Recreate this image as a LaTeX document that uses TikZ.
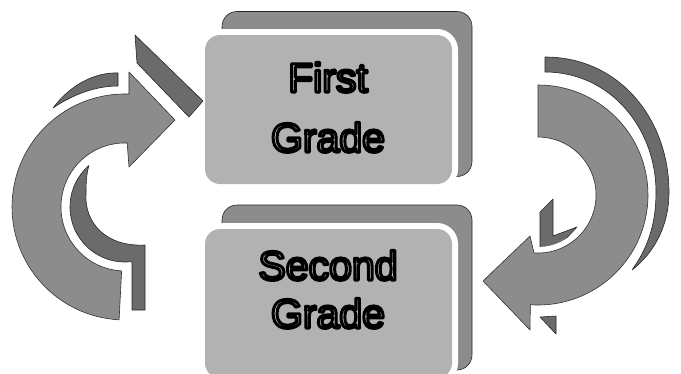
\documentclass[tikz,border=0pt]{standalone}
\usepackage{fontspec}
\setmainfont{Liberation Sans}
\definecolor{boxfront}{gray}{0.70}
\definecolor{boxback}{gray}{0.55}
\definecolor{arrowmain}{gray}{0.55}
\definecolor{arrowdark}{gray}{0.42}
\definecolor{txtfill}{gray}{0.78}
\newcommand{\outlined}[1]{\color{txtfill}\special{pdf:literal direct 0 G 2 Tr 3 w 1 j}#1\special{pdf:literal direct 0 Tr}}
\tikzset{
  backbox/.style={draw=black!85, line width=0.6pt, fill=boxback, rounded corners=15pt,
    inner sep=0pt, outer sep=0pt, minimum width=250pt, minimum height=165pt},
  frontbox/.style={fill=boxfront, rounded corners=15pt,
    preaction={draw=white, line width=12pt},
    inner sep=0pt, outer sep=0pt, minimum width=247pt, minimum height=149pt},
  gtext/.style={anchor=base, inner sep=0pt,
    font=\fontsize{41}{41}\selectfont},
  arrowbody/.style={fill=arrowmain, draw=black!80, line width=0.6pt, line join=round,
    preaction={draw=white, line width=12pt, line join=round}},
  arrowside/.style={fill=arrowdark, draw=black!85, line width=0.6pt, line join=round},
}
\begin{document}
\begin{tikzpicture}[x=1pt, y=-1pt]
\useasboundingbox (0,0) rectangle (681,373);

% boxes
\node[backbox] (firstback) at (347,94) {};
\node[frontbox] (firstfront) at (328.5,109.5) {};
\node[backbox] (secondback) at (347,287.5) {};
\node[frontbox] (secondfront) at (328.5,303.5) {};

\node[gtext] (t1a) at (328,92) {\outlined{First}};
\node[gtext] (t1b) at (328,152) {\outlined{Grade}};
\node[gtext] (t2a) at (328,280) {\outlined{Second}};
\node[gtext] (t2b) at (328,328) {\outlined{Grade}};

% left arrow: extruded side pieces
\draw[arrowside] (118,73) .. controls (95,72) and (70,85) .. (53,108)
  .. controls (72,95) and (95,86) .. (118,86) -- cycle;
\draw[arrowside] (135,35) -- (203,101) -- (189,117) -- (137,63) -- cycle;
\draw[arrowside] (88.9,165.5) arc[start angle=229, end angle=85, radius=55]
  -- (132,262) -- (132,310) -- (145,310) -- (145,245)
  .. controls (105,247) and (84,222) .. (86,193)
  .. controls (86,180) and (87,172) .. (88.9,165.5) -- cycle;
% left arrow body
\draw[arrowbody] (119.1,319.8) arc[start angle=93, end angle=272, radius=113]
  -- (129,72) -- (175,120) -- (129,167) -- (127.2,143.0)
  arc[start angle=272, end angle=93, radius=64] -- cycle;

% right arrow: extruded side pieces
\draw[arrowside] (545,57) .. controls (620,57) and (669,120) .. (669,192)
  .. controls (669,225) and (655,252) .. (632,270)
  .. controls (650,245) and (656,220) .. (656,192)
  .. controls (656,128) and (610,72) .. (545,72) -- cycle;
\draw[arrowside] (540,212) -- (553,199) -- (553,236) -- (577,227) -- (562,243) -- (540,249) -- cycle;
\draw[arrowside] (540,317) -- (556,316) -- (556,334) -- cycle;
% right arrow body
\draw[arrowbody] (538,85) arc[start angle=-90, end angle=94, radius=110]
  -- (530,330) -- (483,281) -- (530,236) -- (534.0,252.9)
  arc[start angle=94, end angle=-90, radius=58] -- cycle;
\end{tikzpicture}
\end{document}
